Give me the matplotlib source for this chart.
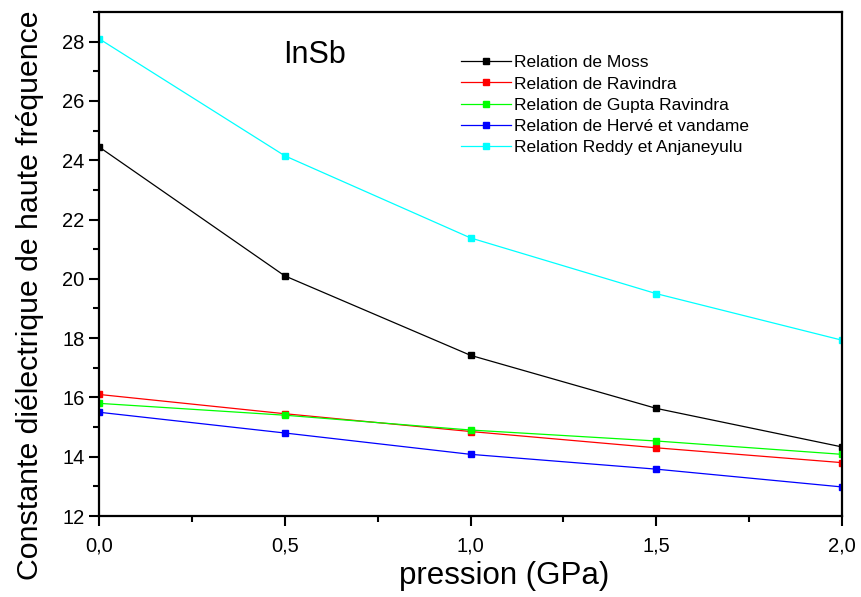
import matplotlib
matplotlib.use("Agg")
import matplotlib.pyplot as plt
from matplotlib.ticker import MultipleLocator, FuncFormatter

plt.rcParams['font.family'] = ['Liberation Sans', 'DejaVu Sans']

pression = [0.0, 0.5, 1.0, 1.5, 2.0]
moss = [24.45, 20.1, 17.42, 15.63, 14.33]
ravindra = [16.1, 15.45, 14.85, 14.3, 13.8]
gupta_ravindra = [15.8, 15.4, 14.9, 14.53, 14.08]
herve_vandame = [15.5, 14.8, 14.08, 13.58, 12.98]
reddy_anjaneyulu = [28.1, 24.15, 21.38, 19.5, 17.93]

series = [
    ("Relation de Moss", moss, "#000000"),
    ("Relation de Ravindra", ravindra, "#ff0000"),
    ("Relation de Gupta Ravindra", gupta_ravindra, "#00ff00"),
    ("Relation de Hervé et vandame", herve_vandame, "#0000ff"),
    ("Relation Reddy et Anjaneyulu", reddy_anjaneyulu, "#00ffff"),
]

fig = plt.figure(figsize=(8.61, 5.97), dpi=100)
ax = fig.add_axes([99 / 861, 1 - 516 / 597, (842 - 99) / 861, (516 - 12) / 597])

for label, vals, color in series:
    ax.plot(pression, vals, color=color, lw=0.9, marker="s", ms=5,
            mec=color, mfc=color, label=label)

ax.set_xlim(0, 2.0)
ax.set_ylim(12, 29)
ax.xaxis.set_major_locator(MultipleLocator(0.5))
ax.xaxis.set_minor_locator(MultipleLocator(0.25))
ax.yaxis.set_major_locator(MultipleLocator(2))
ax.yaxis.set_minor_locator(MultipleLocator(1))
ax.xaxis.set_major_formatter(FuncFormatter(lambda v, p: f"{v:.1f}".replace(".", ",")))
ax.yaxis.set_major_formatter(FuncFormatter(lambda v, p: f"{v:.0f}"))

ax.tick_params(which="major", direction="out", length=7, width=1.5, labelsize=14.5)
ax.tick_params(which="minor", direction="out", length=4, width=1.5)
ax.tick_params(axis="x", pad=8)
for s in ax.spines.values():
    s.set_linewidth(1.6)

ax.set_xlabel("pression (GPa)", fontsize=22.5)
ax.set_ylabel("Constante diélectrique de haute fréquence", fontsize=21.8)
ax.xaxis.set_label_coords(0.546, -0.09)
ax.yaxis.set_label_coords(-0.074, 0.438)

ax.text(0.29, 0.915, "InSb", transform=ax.transAxes, fontsize=22,
        ha="center", va="center")

leg = ax.legend(loc="upper left", bbox_to_anchor=(0.487, 0.914), frameon=False,
                fontsize=12.5, handlelength=2.9, handletextpad=0.15,
                labelspacing=0.34, borderaxespad=0, borderpad=0)

fig.savefig("out.png", dpi=100)
